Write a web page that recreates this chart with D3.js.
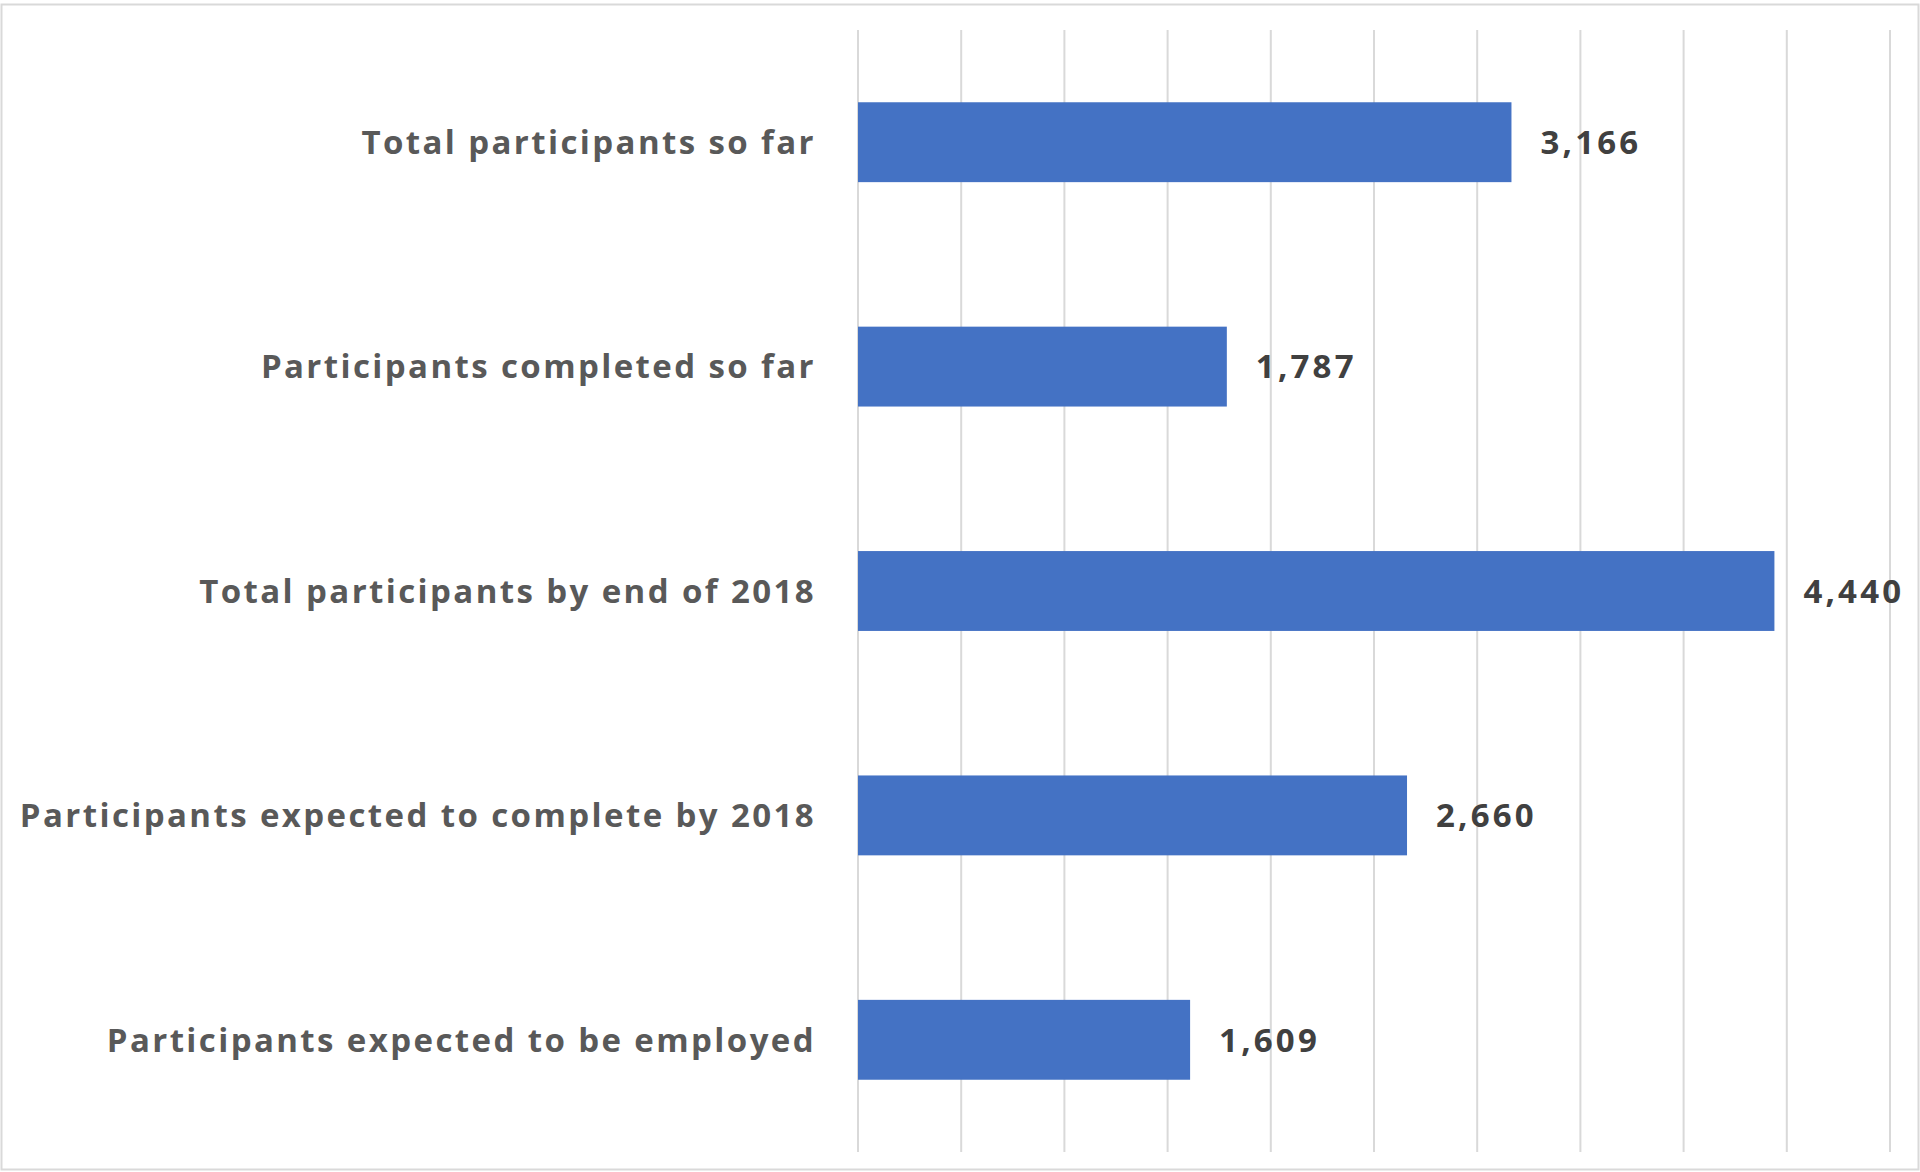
<!DOCTYPE html>
<html>
<head>
<meta charset="utf-8">
<script src="https://cdn.jsdelivr.net/npm/d3@7.9.0/dist/d3.min.js"></script>
<style>
  html, body { margin: 0; padding: 0; background: #fff; }
  svg { display: block; }
</style>
</head>
<body>
<svg id="chart" width="1920" height="1172"></svg>
<script>
// categories top to bottom, and their values
const categories = [
  'Total participants so far',
  'Participants completed so far',
  'Total participants by end of 2018',
  'Participants expected to complete by 2018',
  'Participants expected to be employed'
];
const values = [3166, 1787, 4440, 2660, 1609];
const tickValues = [0, 500, 1000, 1500, 2000, 2500, 3000, 3500, 4000, 4500, 5000];

const width = 1920, height = 1172;
const margin = { top: 30, right: 30, bottom: 20, left: 858 };

const svg = d3.select('#chart');

// outer frame
svg.append('rect')
  .attr('x', 1.5).attr('y', 4.5)
  .attr('width', width - 3).attr('height', height - 7)
  .attr('fill', '#fff')
  .attr('stroke', '#d9d9d9')
  .attr('stroke-width', 2);

let x = d3.scaleLinear()
  .domain([0, 5000])
  .range([margin.left, width - margin.right]);

let y = d3.scaleBand()
  .domain(categories)
  .range([margin.top, height - margin.bottom])
  .paddingInner(0.644)
  .paddingOuter(0.322);

// vertical gridlines
svg.append('g')
  .selectAll('line')
  .data(tickValues)
  .join('line')
  .attr('x1', (d) => x(d)).attr('x2', (d) => x(d))
  .attr('y1', margin.top).attr('y2', height - margin.bottom)
  .attr('stroke', '#d9d9d9')
  .attr('stroke-width', 2);

let data = categories.map((c, i) => ({ label: c, value: values[i] }));

// bars
svg.append('g')
  .selectAll('rect')
  .data(data)
  .join('rect')
  .attr('x', x(0))
  .attr('y', (d) => y(d.label))
  .attr('width', (d) => x(d.value) - x(0))
  .attr('height', y.bandwidth())
  .attr('fill', '#4472C4');

// category labels
svg.append('g')
  .selectAll('text')
  .data(data)
  .join('text')
  .attr('x', x(0) - 42)
  .attr('y', (d) => y(d.label) + y.bandwidth() / 2)
  .attr('dy', '0.36em')
  .attr('text-anchor', 'end')
  .attr('font-family', '"Open Sans", sans-serif')
  .attr('font-weight', 700)
  .attr('font-size', 33)
  .attr('letter-spacing', 2.4)
  .attr('fill', '#595959')
  .text((d) => d.label);

// value labels
const fmt = d3.format(',');
svg.append('g')
  .selectAll('text')
  .data(data)
  .join('text')
  .attr('x', (d) => x(d.value) + 29)
  .attr('y', (d) => y(d.label) + y.bandwidth() / 2)
  .attr('dy', '0.36em')
  .attr('font-family', '"Open Sans", sans-serif')
  .attr('font-weight', 700)
  .attr('font-size', 33)
  .attr('letter-spacing', 3.2)
  .attr('fill', '#404040')
  .text((d) => fmt(d.value));
</script>
</body>
</html>
